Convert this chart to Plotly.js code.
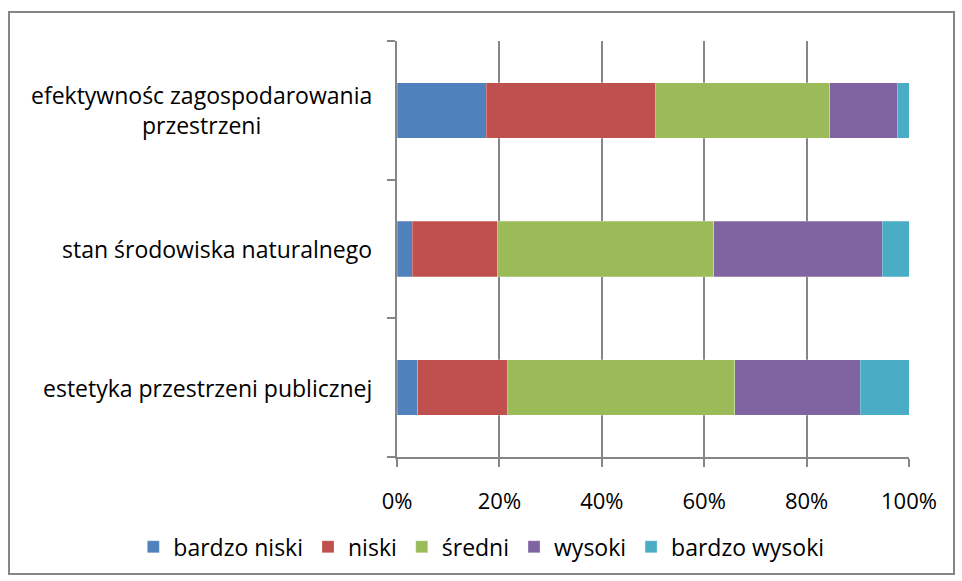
<!DOCTYPE html>
<html>
<head>
<meta charset="utf-8">
<script src="https://cdn.plot.ly/plotly-3.0.1.min.js"></script>
<style>
  body { margin: 0; background: #fff; }
  #wrap { position: relative; width: 962px; height: 581px; }
  #plot { width: 962px; height: 581px; }
  #frame { position: absolute; left: 8px; top: 11px; width: 943px; height: 560px;
           border: 2px solid #868686; pointer-events: none; }
</style>
</head>
<body>
<div id="wrap">
  <div id="plot"></div>
  <div id="frame"></div>
</div>
<script>
// categories, bottom to top
const categories = [
  "estetyka przestrzeni publicznej",
  "stan środowiska naturalnego",
  "efektywnośc zagospodarowania<br>przestrzeni"
];

const seriesNames = ["bardzo niski", "niski", "średni", "wysoki", "bardzo wysoki"];
const seriesColors = ["#4F81BD", "#C0504D", "#9BBB59", "#8064A2", "#4BACC6"];

// percentages per category (same order as categories)
const bardzoNiski = [4.1, 3.0, 17.4];
const niski = [17.4, 16.6, 33.0];
const sredni = [44.5, 42.3, 34.1];
const wysoki = [24.5, 32.9, 13.3];
const bardzoWysoki = [9.5, 5.2, 2.2];

const xTicks = [0, 20, 40, 60, 80, 100];
const xTickText = ["0%", "20%", "40%", "60%", "80%", "100%"];

const values = [bardzoNiski, niski, sredni, wysoki, bardzoWysoki];

const traces = values.map((vals, i) => ({
  type: "bar",
  orientation: "h",
  name: seriesNames[i],
  y: categories,
  x: vals,
  marker: { color: seriesColors[i], line: { color: "rgba(255,255,255,0.5)", width: 0.5 } },
  hoverinfo: "x+name"
}));

const font = { family: "'Open Sans', sans-serif", size: 23, color: "#000" };

// category labels drawn as annotations so the two-line label is centred
const annotations = categories.map(c => ({
  xref: "paper", yref: "y",
  x: -0.045, y: c,
  text: c,
  showarrow: false,
  xanchor: "right",
  yanchor: "middle",
  align: "center",
  font: font
}));

const layout = {
  width: 962,
  height: 581,
  margin: { l: 397, r: 53, t: 41, b: 124, autoexpand: false },
  barmode: "stack",
  bargap: 0.6,
  paper_bgcolor: "#fff",
  plot_bgcolor: "#fff",
  font: font,
  showlegend: true,
  legend: {
    orientation: "h",
    traceorder: "normal",
    x: -0.515, xanchor: "left",
    y: -0.216, yanchor: "middle",
    font: font,
    itemwidth: 30
  },
  xaxis: {
    range: [0, 100],
    tickvals: xTicks,
    ticktext: xTickText,
    tickfont: { family: "'Open Sans', sans-serif", size: 22, color: "#000" },
    showgrid: true,
    gridcolor: "#868686",
    gridwidth: 2,
    zeroline: false,
    showline: true,
    linecolor: "#868686",
    linewidth: 2,
    ticks: "outside",
    ticklen: 8,
    tickwidth: 2,
    tickcolor: "#868686",
    ticklabelstandoff: 16,
    automargin: false,
    fixedrange: true
  },
  yaxis: {
    type: "category",
    categoryorder: "array",
    categoryarray: categories,
    showticklabels: false,
    showgrid: false,
    zeroline: false,
    showline: true,
    linecolor: "#868686",
    linewidth: 2,
    ticks: "outside",
    tickson: "boundaries",
    ticklen: 8,
    tickwidth: 2,
    tickcolor: "#868686",
    automargin: false,
    fixedrange: true
  },
  annotations: annotations
};

Plotly.newPlot("plot", traces, layout, { displayModeBar: false, staticPlot: true });
</script>
</body>
</html>
